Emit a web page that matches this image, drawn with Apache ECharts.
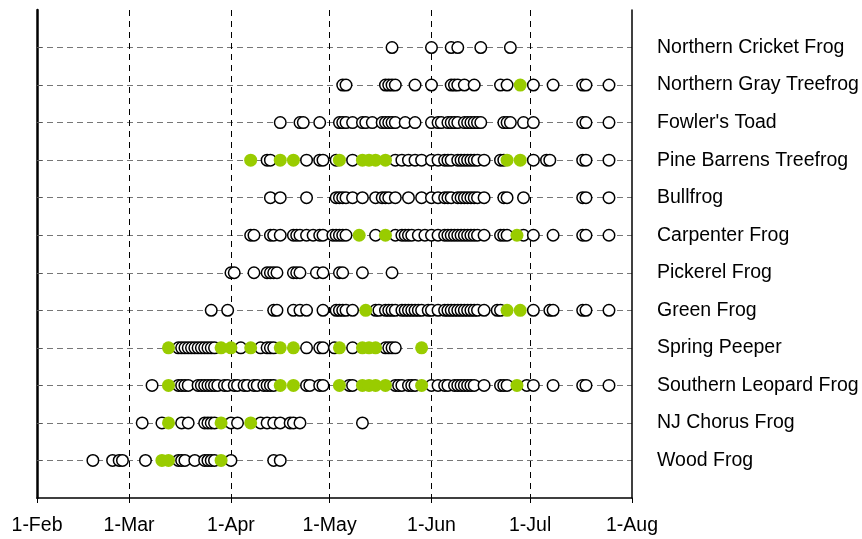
<!DOCTYPE html>
<html>
<head>
<meta charset="utf-8">
<script src="https://cdn.jsdelivr.net/npm/echarts@6/dist/echarts.min.js"></script>
<style>
  html, body { margin: 0; padding: 0; background: #ffffff; }
  #chart { width: 862px; height: 539px; }
</style>
</head>
<body>
<div id="chart"></div>
<script>
// Calling-survey dates for each species, as day of year (1 Jan = 1).
// Rows are listed bottom to top.
const species = [
  'Wood Frog', 'NJ Chorus Frog', 'Southern Leopard Frog', 'Spring Peeper',
  'Green Frog', 'Pickerel Frog', 'Carpenter Frog', 'Bullfrog',
  'Pine Barrens Treefrog', "Fowler's Toad", 'Northern Gray Treefrog', 'Northern Cricket Frog'
];

const monthTicks = [32, 60, 91, 121, 152, 182, 213];
const monthLabels = ['1-Feb', '1-Mar', '1-Apr', '1-May', '1-Jun', '1-Jul', '1-Aug'];

// open markers: nights with calling recorded
const woodFrog = [49, 55, 57, 58, 65, 75, 76, 77, 80, 83, 84, 85, 86, 91, 104, 106];
const njChorusFrog = [64, 70, 76, 78, 83, 84, 85, 86, 91, 93, 100, 102, 104, 106, 109, 110, 112, 131];
const southernLeopardFrog = [67, 75, 76, 77, 78, 81, 82, 83, 84, 85, 86, 87, 89, 90, 92, 93, 95, 96, 98, 99,
  101, 102, 103, 104, 114, 115, 118, 119, 127, 128, 141, 142, 143, 145, 146, 147, 152, 154, 156, 157,
  159, 160, 161, 162, 163, 164, 165, 168, 173, 174, 175, 181, 183, 189, 198, 199, 206];
const springPeeper = [75, 76, 77, 78, 79, 80, 81, 82, 83, 84, 85, 86, 94, 100, 102, 103, 104, 114, 118, 119,
  122.5, 128, 138, 139, 140, 141];
const greenFrog = [85, 90, 104, 105, 110, 112, 114, 119, 123, 124, 125, 126, 128, 135, 136, 138, 139, 140, 141,
  143, 144, 145, 146, 147, 148, 149, 151, 152, 154, 156, 157, 158, 159, 160, 161, 162, 163, 164, 165, 166,
  168, 172, 173, 183, 188, 189, 198, 199, 206];
const pickerelFrog = [91, 92, 98, 102, 103, 104, 105, 110, 111, 112, 117, 119, 124, 125, 131, 140];
const carpenterFrog = [97, 98, 103, 104, 106, 110, 111, 112, 114, 116, 118, 119, 122, 123, 124, 125, 126, 135,
  141, 143, 144, 145, 146, 148, 150, 152, 154, 156, 157, 158, 159, 160, 161, 162, 163, 164, 165, 166, 168,
  173, 174, 175, 180, 183, 189, 198, 199, 206];
const bullfrog = [103, 106, 114, 123, 124, 125, 126, 128, 131, 135, 137, 138, 139, 141, 145, 149, 152, 154, 156,
  157, 158, 160, 161, 162, 163, 164, 165, 166, 168, 174, 175, 180, 198, 199, 206];
const pineBarrensTreefrog = [102, 103, 114, 118, 119, 123, 128, 141, 143, 145, 147, 149, 152, 154, 156, 157, 158,
  160, 161, 162, 163, 164, 165, 166, 168, 173, 174, 183, 187, 188, 198, 199, 206];
const fowlersToad = [106, 112, 113, 118, 124, 125, 126, 128, 131, 132, 134, 137, 138, 139, 140, 141, 144, 147,
  152, 154, 155, 157, 158, 159, 160, 162, 163, 164, 165, 166, 167, 174, 175, 176, 180, 183, 198, 199, 206];
const northernGrayTreefrog = [125, 126, 138, 139, 140, 141, 147, 152, 158, 159, 160, 162, 165, 173, 175, 183,
  189, 198, 199, 206];
const northernCricketFrog = [140, 152, 158, 160, 167, 176];

// filled markers: highlighted nights
const woodFrogMarked = [70, 72, 88];
const njChorusFrogMarked = [72, 88, 97];
const southernLeopardFrogMarked = [72, 106, 110, 124, 131, 133, 135, 138, 149, 178];
const springPeeperMarked = [72, 88, 91, 97, 106, 110, 124, 131, 133, 135, 149];
const greenFrogMarked = [132, 175, 179];
const pickerelFrogMarked = [];
const carpenterFrogMarked = [130, 138, 178];
const bullfrogMarked = [];
const pineBarrensTreefrogMarked = [97, 106, 110, 124, 131, 133, 135, 138, 175, 179];
const fowlersToadMarked = [];
const northernGrayTreefrogMarked = [179];
const northernCricketFrogMarked = [];

const openRows = [woodFrog, njChorusFrog, southernLeopardFrog, springPeeper, greenFrog, pickerelFrog,
  carpenterFrog, bullfrog, pineBarrensTreefrog, fowlersToad, northernGrayTreefrog, northernCricketFrog];
const markedRows = [woodFrogMarked, njChorusFrogMarked, southernLeopardFrogMarked, springPeeperMarked,
  greenFrogMarked, pickerelFrogMarked, carpenterFrogMarked, bullfrogMarked, pineBarrensTreefrogMarked,
  fowlersToadMarked, northernGrayTreefrogMarked, northernCricketFrogMarked];

function toPoints(rows) {
  const pts = [];
  rows.forEach((days, i) => days.forEach(d => pts.push([d, i + 1])));
  return pts;
}

const rowValues = species.map((_, i) => i + 1);
const FONT = 'Liberation Sans, Arial, sans-serif';

const chart = echarts.init(document.getElementById('chart'), null, { renderer: 'canvas' });
chart.setOption({
  animation: false,
  backgroundColor: '#ffffff',
  grid: { left: 37, right: 230, top: 10, bottom: 41, containLabel: false },
  xAxis: {
    type: 'value', min: 32, max: 213,
    axisLine: { show: true, lineStyle: { color: '#000', width: 1.5 } },
    axisTick: { show: true, customValues: monthTicks, length: 5, lineStyle: { color: '#000', width: 1 } },
    axisLabel: {
      customValues: monthTicks, margin: 18, color: '#000', fontSize: 19.5, fontFamily: FONT,
      formatter: v => monthLabels[monthTicks.indexOf(v)] || ''
    },
    splitLine: { show: true, showMinLine: false, showMaxLine: false,
      lineStyle: { color: '#000', type: [6, 5], width: 1 } }
  },
  yAxis: [{
    type: 'value', min: 0, max: 13, interval: 1, position: 'left',
    axisLine: { show: true, lineStyle: { color: '#000', width: 2.5 } },
    axisTick: { show: true, inside: true, length: 5, customValues: rowValues, lineStyle: { color: '#555', width: 1 } },
    axisLabel: { show: false },
    splitLine: { show: true, lineStyle: { color: '#777', type: [6, 4], width: 1.2 } }
  }, {
    type: 'value', min: 0, max: 13, interval: 1, position: 'right',
    axisLine: { show: true, lineStyle: { color: '#000', width: 1.5 } },
    axisTick: { show: false },
    axisLabel: {
      margin: 25, color: '#000', fontSize: 19.5, fontFamily: FONT, align: 'left',
      formatter: v => species[v - 1] || ''
    },
    splitLine: { show: false }
  }],
  series: [{
    type: 'scatter', xAxisIndex: 0, yAxisIndex: 0, z: 2,
    symbol: 'circle', symbolSize: 11.5,
    itemStyle: { color: '#ffffff', borderColor: '#000', borderWidth: 1.5, opacity: 1 },
    data: toPoints(openRows)
  }, {
    type: 'scatter', xAxisIndex: 0, yAxisIndex: 0, z: 3,
    symbol: 'circle', symbolSize: 13,
    itemStyle: { color: '#99cc00', opacity: 1 },
    data: toPoints(markedRows)
  }]
});
</script>
</body>
</html>
